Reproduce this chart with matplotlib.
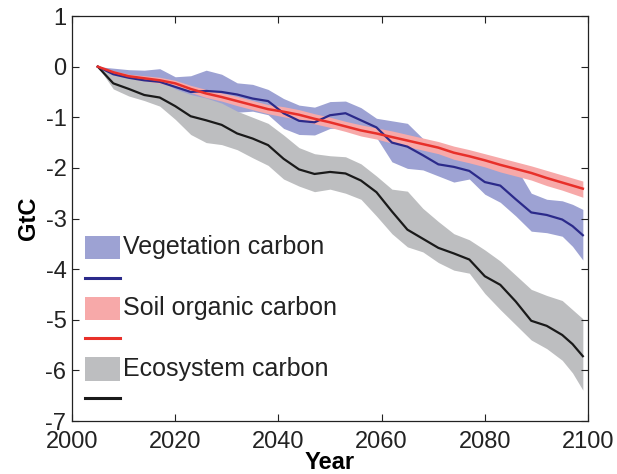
import matplotlib.pyplot as plt
from matplotlib.patches import Rectangle
from matplotlib.lines import Line2D

plt.rcParams['font.family'] = ['Liberation Sans', 'DejaVu Sans']
plt.rcParams['axes.unicode_minus'] = False

years = [2005, 2008, 2011, 2014, 2017, 2020, 2023, 2026, 2029, 2032, 2035,
         2038, 2041, 2044, 2047, 2050, 2053, 2056, 2059, 2062, 2065, 2068,
         2071, 2074, 2077, 2080, 2083, 2086, 2089, 2092, 2095, 2097, 2099]

veg_mean = [0, -0.15, -0.22, -0.27, -0.30, -0.40, -0.50, -0.48, -0.50, -0.55, -0.63,
            -0.68, -0.92, -1.07, -1.10, -0.96, -0.92, -1.06, -1.20, -1.50, -1.58, -1.75,
            -1.93, -1.98, -2.06, -2.28, -2.35, -2.62, -2.88, -2.93, -3.02, -3.15, -3.33]
veg_hi = [0, -0.03, -0.06, -0.07, -0.04, -0.20, -0.18, -0.07, -0.15, -0.32, -0.35,
          -0.45, -0.63, -0.76, -0.80, -0.69, -0.68, -0.81, -1.02, -1.07, -1.12, -1.42,
          -1.58, -1.72, -1.83, -1.90, -1.95, -1.98, -2.50, -2.62, -2.65, -2.72, -2.82]
veg_lo = [0, -0.20, -0.25, -0.30, -0.36, -0.48, -0.60, -0.70, -0.78, -0.90, -0.88,
          -0.95, -1.22, -1.34, -1.35, -1.22, -1.21, -1.28, -1.40, -1.88, -2.01, -2.04,
          -2.16, -2.28, -2.22, -2.52, -2.68, -2.95, -3.25, -3.28, -3.35, -3.55, -3.82]

soil_mean = [0, -0.11, -0.19, -0.23, -0.27, -0.33, -0.44, -0.53, -0.60, -0.68, -0.76,
             -0.84, -0.89, -0.95, -1.03, -1.10, -1.18, -1.26, -1.32, -1.39, -1.46, -1.53,
             -1.60, -1.70, -1.77, -1.85, -1.94, -2.02, -2.10, -2.20, -2.29, -2.35, -2.41]
soil_hi = [0, -0.08, -0.15, -0.18, -0.21, -0.27, -0.37, -0.45, -0.52, -0.59, -0.67,
           -0.75, -0.79, -0.85, -0.93, -1.00, -1.08, -1.15, -1.21, -1.27, -1.34, -1.41,
           -1.48, -1.57, -1.64, -1.72, -1.80, -1.88, -1.96, -2.05, -2.14, -2.20, -2.26]
soil_lo = [0, -0.14, -0.23, -0.28, -0.33, -0.39, -0.51, -0.61, -0.68, -0.77, -0.85,
           -0.93, -0.99, -1.05, -1.13, -1.20, -1.28, -1.37, -1.43, -1.51, -1.58, -1.65,
           -1.72, -1.83, -1.90, -1.98, -2.08, -2.16, -2.24, -2.35, -2.44, -2.51, -2.58]

eco_mean = [0, -0.33, -0.44, -0.56, -0.61, -0.78, -0.98, -1.06, -1.15, -1.32, -1.42,
            -1.55, -1.82, -2.03, -2.12, -2.08, -2.11, -2.25, -2.48, -2.86, -3.22, -3.40,
            -3.58, -3.69, -3.81, -4.14, -4.31, -4.64, -5.02, -5.12, -5.30, -5.48, -5.72]
eco_hi = [0, -0.13, -0.19, -0.23, -0.27, -0.44, -0.55, -0.62, -0.72, -0.88, -1.00,
          -1.12, -1.35, -1.60, -1.72, -1.76, -1.78, -1.92, -2.16, -2.42, -2.46, -2.80,
          -3.06, -3.30, -3.42, -3.62, -3.84, -4.12, -4.40, -4.52, -4.62, -4.80, -4.98]
eco_lo = [0, -0.44, -0.58, -0.67, -0.78, -1.04, -1.34, -1.50, -1.54, -1.64, -1.80,
          -1.95, -2.22, -2.36, -2.47, -2.42, -2.50, -2.62, -2.95, -3.30, -3.56, -3.66,
          -3.87, -4.02, -4.08, -4.48, -4.80, -5.10, -5.40, -5.57, -5.80, -6.05, -6.39]

labels = ["Vegetation carbon", "Soil organic carbon", "Ecosystem carbon"]
band_colors = ["#9da2d3", "#f7a9a9", "#bdbec0"]
line_colors = ["#2b2a8a", "#e8302a", "#1a1a1a"]

fig = plt.figure(figsize=(6.17, 4.74), dpi=100)
ax = fig.add_axes([0.1167, 0.1118, 0.8363, 0.8544])

# bands first, then mean lines on top
ax.fill_between(years, veg_lo, veg_hi, color=band_colors[0], lw=0)
ax.fill_between(years, eco_lo, eco_hi, color=band_colors[2], lw=0)
ax.fill_between(years, soil_lo, soil_hi, color=band_colors[1], lw=0)
ax.plot(years, eco_mean, color=line_colors[2], lw=1.6)
ax.plot(years, veg_mean, color=line_colors[0], lw=1.6)
ax.plot(years, soil_mean, color=line_colors[1], lw=1.8)

ax.set_xlim(2000, 2100)
ax.set_ylim(-7, 1)
ax.set_xticks(range(2000, 2101, 20))
ax.set_yticks(range(-7, 2))
ax.tick_params(direction="in", top=True, right=True, length=5, width=0.8,
               labelsize=17, colors="#222222")
ax.tick_params(axis="x", pad=7)
ax.tick_params(axis="y", pad=4)
for s in ax.spines.values():
    s.set_linewidth(0.9)
    s.set_color("#222222")
ax.set_xlabel("Year", fontsize=17, fontweight="bold", labelpad=-1)
ax.set_ylabel("GtC", fontsize=17, fontweight="bold", labelpad=4)

# legend drawn by hand: patch row + line row per series
patch_y = [0.400, 0.249, 0.099]
line_y = [0.353, 0.205, 0.057]
for i in range(3):
    ax.add_patch(Rectangle((0.0252, patch_y[i]), 0.068, 0.058, transform=ax.transAxes,
                           color=band_colors[i], lw=0))
    ax.add_line(Line2D([0.0252, 0.093], [line_y[i], line_y[i]], transform=ax.transAxes,
                       color=line_colors[i], lw=2.2))
    ax.text(0.099, patch_y[i] + 0.029, labels[i], transform=ax.transAxes,
            fontsize=18, va="center", ha="left", color="#222222")

fig.savefig("out.png", dpi=100)
